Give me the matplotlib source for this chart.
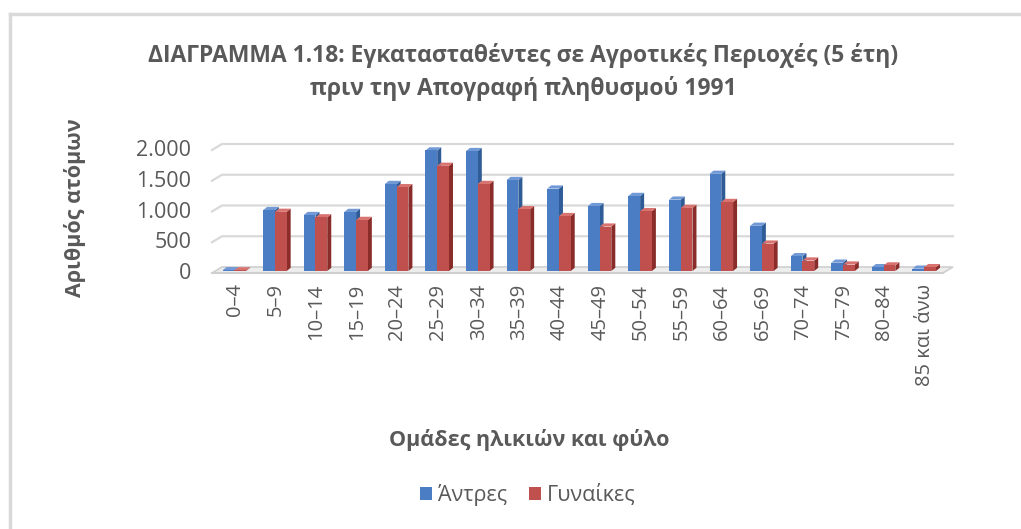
import matplotlib
matplotlib.use("Agg")
import matplotlib.pyplot as plt
from matplotlib.patches import Rectangle, Polygon, Patch
from matplotlib.lines import Line2D

plt.rcParams['font.family'] = ['Open Sans', 'DejaVu Sans']

categories = ["0–4", "5–9", "10–14", "15–19", "20–24", "25–29", "30–34", "35–39",
              "40–44", "45–49", "50–54", "55–59", "60–64", "65–69", "70–74",
              "75–79", "80–84", "85 και άνω"]
men = [12, 990, 910, 960, 1415, 1960, 1950, 1480, 1340, 1055, 1220, 1160,
       1580, 735, 240, 135, 62, 38]
women = [10, 962, 872, 830, 1362, 1710, 1415, 1005, 893, 722, 973, 1026,
         1122, 445, 170, 105, 90, 62]
yticks = [0, 500, 1000, 1500, 2000]
yticklabels = ["0", "500", "1.000", "1.500", "2.000"]

title = "ΔΙΑΓΡΑΜΜΑ 1.18: Εγκατασταθέντες σε Αγροτικές Περιοχές (5 έτη)\nπριν την Απογραφή πληθυσμού 1991"
ylabel = "Αριθμός ατόμων"
xlabel = "Ομάδες ηλικιών και φύλο"
series_names = ["Άντρες", "Γυναίκες"]

TXT = "#595959"
W, H = 1021, 529
fig = plt.figure(figsize=(W / 100, H / 100), dpi=100)

# chart border
fig.add_artist(Line2D([10 / W, 10 / W], [0, 1 - 14 / H], color="#D9D9D9", lw=2.5))
fig.add_artist(Line2D([10 / W, 1], [1 - 14 / H, 1 - 14 / H], color="#D9D9D9", lw=2.5))

ax_l, ax_r, ax_t, ax_b = 212, 953, 148, 271
ax = fig.add_axes([ax_l / W, 1 - ax_b / H, (ax_r - ax_l) / W, (ax_b - ax_t) / H])
xmin, xmax = -0.57, 17.69
ymin, ymax = 0, 2000
ax.set_xlim(xmin, xmax)
ax.set_ylim(ymin, ymax)
ux = (xmax - xmin) / (ax_r - ax_l)   # data units per pixel
uy = (ymax - ymin) / (ax_b - ax_t)

# back wall gridlines + floor
gdx, gdy = 10 * ux, 6 * uy
for v in yticks[1:]:
    ax.plot([xmin, xmin + gdx, xmax], [v - 2 * uy, v + 4 * uy, v + 4 * uy],
            color="#D9D9D9", lw=1.6, clip_on=False, zorder=1)
floor = Polygon([(xmin, -2 * uy), (xmax - gdx, -2 * uy), (xmax, 4 * uy),
                 (xmin + gdx, 4 * uy)], closed=True, facecolor="#EDEDED",
                edgecolor="#D0D0D0", lw=1.2, clip_on=False, zorder=1)
ax.add_patch(floor)
ax.plot([xmin, xmax - gdx], [-2 * uy, -2 * uy], color="#D0D0D0", lw=1.5,
        clip_on=False, zorder=1)

# 3D-looking bars
bw = 0.29
bdx, bdy = 4.0 * ux, 3.2 * uy
styles = [("#4A7DC4", "#2F5B96", "#7199D6"), ("#C0504D", "#8A2D2A", "#D87370")]
for i in range(len(categories)):
    for s, (vals, off) in enumerate([(men, -bw), (women, 0.0)]):
        v = vals[i]
        x0 = i + off - 0.02
        front, side, top = styles[s]
        z = 3 + s
        ax.add_patch(Polygon([(x0 + bw, 0), (x0 + bw + bdx, bdy), (x0 + bw + bdx, v + bdy),
                              (x0 + bw, v)], closed=True, facecolor=side, lw=0,
                             clip_on=False, zorder=z))
        ax.add_patch(Polygon([(x0, v), (x0 + bdx, v + bdy), (x0 + bw + bdx, v + bdy),
                              (x0 + bw, v)], closed=True, facecolor=top, lw=0,
                             clip_on=False, zorder=z))
        ax.add_patch(Rectangle((x0, 0), bw, v, facecolor=front, lw=0,
                               clip_on=False, zorder=z))

for sp in ax.spines.values():
    sp.set_visible(False)
ax.set_yticks(yticks)
ax.set_yticklabels(yticklabels, fontsize=15.5, color=TXT)
ax.set_xticks(range(len(categories)))
ax.set_xticklabels(categories, rotation=90, fontsize=14.5, color=TXT, va="top")
ax.tick_params(axis="both", length=0)
ax.tick_params(axis="y", pad=15)
ax.tick_params(axis="x", pad=9)
ax.patch.set_visible(False)

fig.text(523 / W, 1 - 72 / H, title, ha="center", va="center", fontsize=16.5,
         fontweight="bold", color=TXT, linespacing=1.45)
fig.text(75 / W, 1 - 208 / H, ylabel, ha="center", va="center", rotation=90,
         fontsize=15.5, fontweight="bold", color=TXT)
fig.text(529 / W, 1 - 440 / H, xlabel, ha="center", va="center", fontsize=15.5,
         fontweight="bold", color=TXT)

handles = [Patch(facecolor=styles[0][0], edgecolor="none"),
           Patch(facecolor=styles[1][0], edgecolor="none")]
leg = fig.legend(handles, series_names, loc="center", bbox_to_anchor=(528 / W, 1 - 495 / H),
                 ncol=2, frameon=False, fontsize=15.5, handlelength=0.55, handleheight=0.55,
                 handletextpad=0.3, columnspacing=1.0)
for t in leg.get_texts():
    t.set_color(TXT)

fig.savefig("out.png", dpi=100)
